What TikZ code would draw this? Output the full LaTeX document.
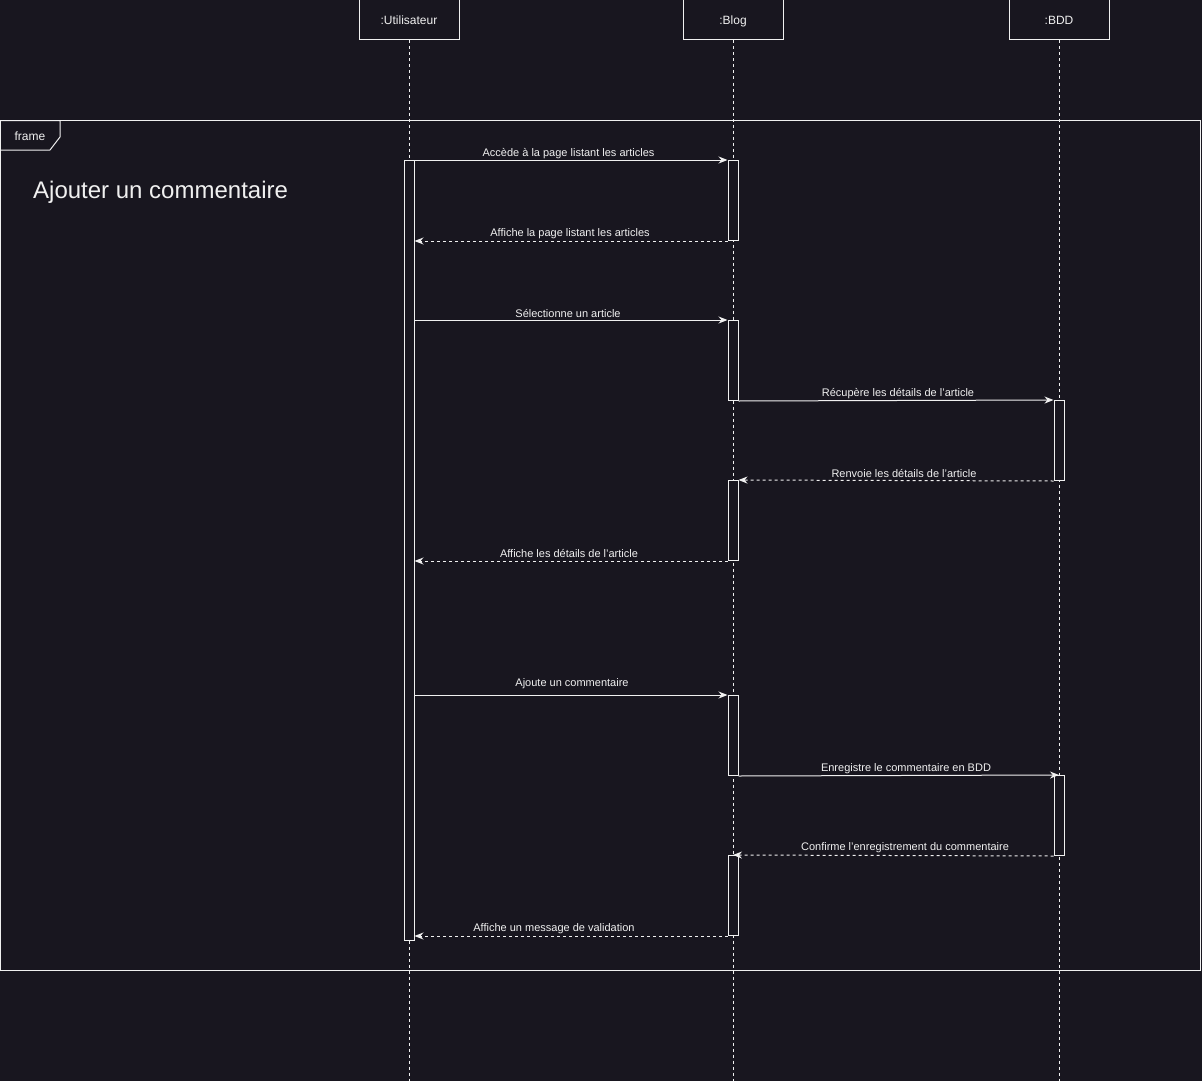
\documentclass[tikz,border=0pt]{standalone}
\usepackage{fontspec}
\setmainfont{Liberation Sans}
\usetikzlibrary{arrows.meta,calc}
\definecolor{bg}{HTML}{18161F}
\definecolor{ink}{HTML}{F0F0F0}

\begin{document}
\begin{tikzpicture}[x=1pt,y=-1pt,
  every node/.style={text=ink},
  actor/.style={draw=ink, line width=1pt, fill=bg, minimum width=100pt,
    minimum height=40pt, inner sep=0pt, text height=8.6pt, text depth=0pt,
    font=\fontsize{12}{14}\selectfont},
  lifeline/.style={draw=ink, line width=1pt, dash pattern=on 3pt off 3pt},
  bar/.style={draw=ink, line width=1pt, fill=bg, minimum width=10pt,
    inner sep=0pt, anchor=north},
  call/.style={draw=ink, line width=1pt, -{Stealth[length=9pt,width=7pt]}},
  reply/.style={call, dash pattern=on 3pt off 3pt},
  msg/.style={font=\fontsize{11}{13}\selectfont, inner sep=0pt},
  edge/.style={draw=ink, line width=1pt}
]
% canvas
\fill[bg] (0,0) rectangle (1202,1081);
\useasboundingbox (0,0) rectangle (1202,1081);
\coordinate (bottom) at (0,1081);

% participants
\node[actor] (pu) at (409,20) {:Utilisateur};
\node[actor] (pb) at (733,20) {:Blog};
\node[actor] (pd) at (1059,20) {:BDD};

% lifelines
\draw[lifeline] (pu.south) -- (pu.south |- bottom);
\draw[lifeline] (pb.south) -- (pb.south |- bottom);
\draw[lifeline] (pd.south) -- (pd.south |- bottom);

% interaction frame
\draw[edge] (0.5,120.5) rectangle (1200.5,970);
\draw[edge] (0.5,120.5) -- (60,120.5) -- (60,137) -- (50,150) -- (0.5,150);
\node[font=\fontsize{12}{14}\selectfont, inner sep=0pt] (fl) at (30,136) {frame};
\node[font=\fontsize{24}{28}\selectfont, inner sep=0pt, anchor=west] (title) at (33,192) {Ajouter un commentaire};

% activation bars
\node[bar, minimum height=780pt] (au) at (409,160) {};
\node[bar, minimum height=80pt] (ab1) at (733,160) {};
\node[bar, minimum height=80pt] (ab2) at (733,320) {};
\node[bar, minimum height=80pt] (ab3) at (733,480) {};
\node[bar, minimum height=80pt] (ab4) at (733,695) {};
\node[bar, minimum height=80pt] (ab5) at (733,855) {};
\node[bar, minimum height=80pt] (ad1) at (1059,400) {};
\node[bar, minimum height=80pt] (ad2) at (1059,775) {};

% messages
\draw[call] (ab1.north west -| au.east) -- (ab1.north west);
\node[msg] (l1) at (568.5,153.5) {Accède à la page listant les articles};

\draw[reply] (ab1.south west) -- (ab1.south west -| au.east);
\node[msg] (l2) at (570,233.5) {Affiche la page listant les articles};

\draw[call] (ab2.north west -| au.east) -- (ab2.north west);
\node[msg] (l3) at (568,313.5) {Sélectionne un article};

\draw[call] (ab2.south east) -- (ad1.north west);
\node[msg] (l4) at (898,393.5) {Récupère les détails de l'article};

\draw[reply] (ad1.south west) -- (ab3.north east);
\node[msg] (l5) at (904,473.5) {Renvoie les détails de l'article};

\draw[reply] (ab3.south west) -- (ab3.south west -| au.east);
\node[msg] (l6) at (569,553.5) {Affiche les détails de l'article};

\draw[call] (ab4.north west -| au.east) -- (ab4.north west);
\node[msg] (l7) at (572,683.5) {Ajoute un commentaire};

\draw[call] (ab4.south east) -- (ad2.north);
\node[msg] (l8) at (906,768.5) {Enregistre le commentaire en BDD};

\draw[reply] (ad2.south west) -- (ab5.north);
\node[msg] (l9) at (905,847.5) {Confirme l'enregistrement du commentaire};

\draw[reply] (ab5.south west) -- (ab5.south west -| au.east);
\node[msg] (l10) at (554,928.5) {Affiche un message de validation};
\end{tikzpicture}
\end{document}
